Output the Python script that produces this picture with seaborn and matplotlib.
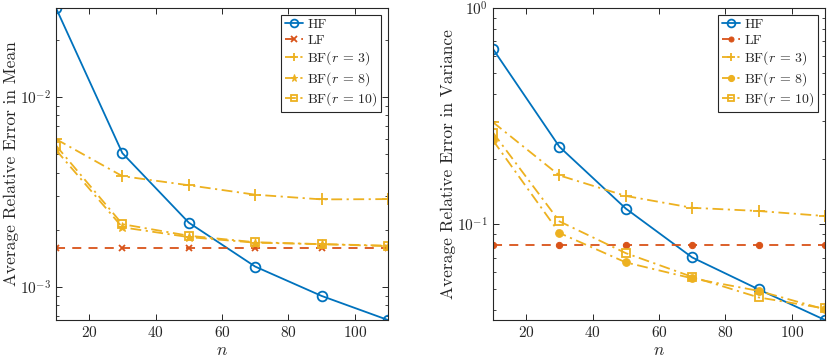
import numpy as np
import pandas as pd
import matplotlib
matplotlib.use("Agg")
import matplotlib.pyplot as plt
import seaborn as sns
from matplotlib.ticker import LogLocator, NullFormatter, FixedLocator

# ---- data ----
n = [10, 30, 50, 70, 90, 110]

mean_hf = [2.94e-2, 5.06e-3, 2.18e-3, 1.28e-3, 8.97e-4, 6.7e-4]
mean_lf = [1.60e-3, 1.60e-3, 1.60e-3, 1.60e-3, 1.60e-3, 1.60e-3]
mean_bf3 = [6.0e-3, 3.83e-3, 3.43e-3, 3.06e-3, 2.89e-3, 2.90e-3]
mean_bf8 = [5.26e-3, 2.06e-3, 1.83e-3, 1.71e-3, 1.68e-3, 1.64e-3]
mean_bf10 = [5.55e-3, 2.14e-3, 1.86e-3, 1.72e-3, 1.68e-3, 1.65e-3]

var_hf = [0.646, 0.228, 0.118, 0.0701, 0.0499, 0.036]
var_lf = [0.080, 0.080, 0.080, 0.080, 0.080, 0.080]
var_bf3 = [0.296, 0.168, 0.135, 0.119, 0.115, 0.109]
var_bf8 = [0.244, 0.091, 0.0665, 0.0561, 0.0491, 0.0403]
var_bf10 = [0.265, 0.103, 0.0734, 0.0570, 0.0458, 0.0407]

labels = ["HF", "LF", r"BF$(r\,=\,3)$", r"BF$(r\,=\,8)$", r"BF$(r\,=\,10)$"]
xticks = [20, 40, 60, 80, 100]

# ---- style ----
sns.set_style("ticks")
plt.rcParams.update({
    "font.family": "serif",
    "font.serif": ["cmr10"],
    "mathtext.fontset": "cm",
    "axes.formatter.use_mathtext": True,
    "axes.unicode_minus": False,
    "font.size": 11,
    "axes.edgecolor": "#262626",
    "axes.linewidth": 0.8,
    "xtick.direction": "in",
    "ytick.direction": "in",
    "xtick.top": True,
    "ytick.right": True,
    "xtick.color": "#262626",
    "ytick.color": "#262626",
})

C_HF = "#0072BD"
C_LF = "#D95319"
C_BF = "#EDB120"

fig = plt.figure(figsize=(8.3, 3.6), dpi=100)
ax1 = fig.add_axes([56 / 830, 1 - 320 / 360, (388 - 56) / 830, (320 - 8) / 360])
ax2 = fig.add_axes([493 / 830, 1 - 320 / 360, (825 - 493) / 830, (320 - 8) / 360])


def draw(ax, hf, lf, bf3, bf8, bf10, lf_marker, bf8_marker):
    lw = 1.3
    sns.lineplot(x=n, y=hf, ax=ax, color=C_HF, linestyle="-", marker="o",
                 markersize=7, markerfacecolor="none", markeredgecolor=C_HF,
                 markeredgewidth=1.3, linewidth=lw, label=labels[0])
    if lf_marker == "x":
        sns.lineplot(x=n, y=lf, ax=ax, color=C_LF, linestyle=(0, (5, 4)), marker="x",
                     markersize=5, markeredgecolor=C_LF, markeredgewidth=1.3,
                     linewidth=lw, label=labels[1])
    else:
        sns.lineplot(x=n, y=lf, ax=ax, color=C_LF, linestyle=(0, (5, 4)), marker="o",
                     markersize=4.5, markerfacecolor=C_LF, markeredgecolor=C_LF,
                     linewidth=lw, label=labels[1])
    dashdot = (0, (6, 2.5, 1.2, 2.5))
    sns.lineplot(x=n, y=bf3, ax=ax, color=C_BF, linestyle=dashdot, marker="+",
                 markersize=8, markeredgecolor=C_BF, markeredgewidth=1.3,
                 linewidth=lw, label=labels[2])
    sns.lineplot(x=n, y=bf8, ax=ax, color=C_BF, linestyle=dashdot, marker=bf8_marker,
                 markersize=6.5 if bf8_marker == "*" else 5.5,
                 markerfacecolor=C_BF, markeredgecolor=C_BF,
                 linewidth=lw, label=labels[3])
    sns.lineplot(x=n, y=bf10, ax=ax, color=C_BF, linestyle=dashdot, marker="s",
                 markersize=6, markerfacecolor="none", markeredgecolor=C_BF,
                 markeredgewidth=1.3, linewidth=lw, label=labels[4])
    ax.set_yscale("log")
    ax.set_xlim(10, 110)
    ax.xaxis.set_major_locator(FixedLocator(xticks))
    ax.yaxis.set_major_locator(LogLocator(base=10, numticks=10))
    ax.yaxis.set_minor_locator(LogLocator(base=10, subs=np.arange(2, 10), numticks=20))
    ax.yaxis.set_minor_formatter(NullFormatter())
    ax.tick_params(which="major", length=4, width=0.7)
    ax.tick_params(which="minor", length=2.5, width=0.6)
    ax.set_xlabel(r"$n$", fontsize=12.5, labelpad=2)
    leg = ax.legend(loc="upper right", fancybox=False, edgecolor="#262626",
                    framealpha=1, fontsize=10, handlelength=1.3,
                    borderpad=0.25, labelspacing=0.2, handletextpad=0.35,
                    borderaxespad=0.5, markerscale=0.8)
    leg.get_frame().set_linewidth(0.8)
    for s in ax.spines.values():
        s.set_visible(True)


draw(ax1, mean_hf, mean_lf, mean_bf3, mean_bf8, mean_bf10, "x", "*")
ax1.set_ylim(6.7e-4, 2.94e-2)
ax1.set_ylabel("Average Relative Error in Mean", fontsize=12.5, labelpad=1)

draw(ax2, var_hf, var_lf, var_bf3, var_bf8, var_bf10, "o", "o")
ax2.set_ylim(0.036, 1.0)
ax2.set_ylabel("Average Relative Error in Variance", fontsize=12.5, labelpad=1)

fig.savefig("out.png", dpi=100)
